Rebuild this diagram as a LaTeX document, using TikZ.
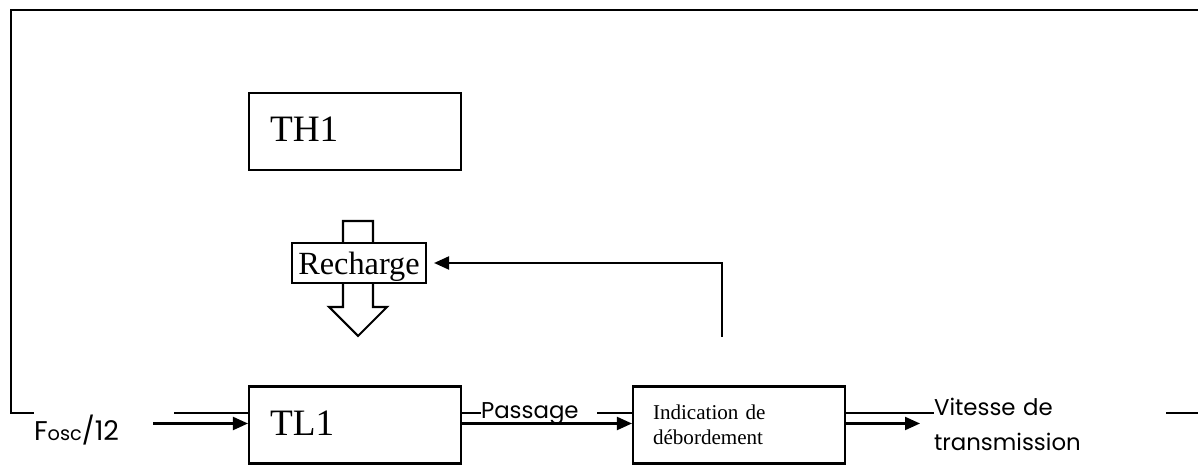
\documentclass[tikz,border=0pt]{standalone}
\usepackage{fontspec}
\setmainfont{Liberation Serif}
\setsansfont{Poppins}
\usepackage{tikz}
\usetikzlibrary{arrows.meta,calc}

\begin{document}
\begin{tikzpicture}[
   line width=0.6pt,
   arr/.style={-{Triangle[length=1.5mm,width=1.3mm]}},
   blk/.style={draw,fill=white,inner xsep=0.21cm,inner ysep=0pt,text width=1.70cm,align=left,minimum height=0.77cm},
   big/.style={font=\fontsize{10.6}{12}\selectfont,text depth=1.2pt},
   lbl/.style={fill=white,inner sep=0pt,anchor=base west,align=left,font=\sffamily\fontsize{6.5}{9.7}\selectfont}]
  \useasboundingbox (0,0) rectangle (11.98,4.68);
  % outer frame
  \draw (11.98,4.58) -| (0.11,0.55) -- (11.98,0.55);
  % timer registers
  \node[blk,big] (TH1) at (3.55,3.365) {TH1};
  \node[blk,big] (TL1) at (3.55,0.43) {TL1};
  % reload arrow
  \draw[fill=white] (3.43,2.47) -- (3.73,2.47) -- (3.73,1.61) -- (3.87,1.61) -- (3.58,1.32)
    -- (3.29,1.61) -- (3.43,1.61) -- cycle;
  \node[draw,fill=white,minimum width=1.34cm,minimum height=0.40cm,inner sep=0pt,
    font=\fontsize{9.2}{11}\selectfont,text depth=0pt] (rech) at (3.59,2.05) {Recharge};
  % overflow block
  \node[blk,inner xsep=0.20cm,text width=1.72cm,font=\fontsize{6}{7.1}\selectfont] (deb) at (7.39,0.43)
    {Indication de\\débordement};
  % labels
  \node[lbl,text width=1.40cm,inner ysep=3pt,font=\sffamily\fontsize{7.7}{9}\selectfont] (fosc) at (0.33,0.27)
    {F{\fontsize{5.5}{6}\selectfont osc}/12};
  \node[lbl,text width=1.16cm] (pass) at (4.80,0.49) {Passage};
  \node[lbl,text width=2.32cm] (vit) at (9.33,0.52) {Vitesse de\\transmission};
  % connectors
  \coordinate (fin) at (1.53,0.445);
  \coordinate (fout) at (9.20,0.445);
  \coordinate (fb) at (7.22,1.31);
  \draw[arr] (fin) -- (fin -| TL1.west);
  \draw[arr] (TL1.east |- fin) -- (fin -| deb.west);
  \draw[arr] (deb.east |- fin) -- (fout);
  \draw[arr,shorten >=0.07cm] (fb) |- (rech.east);
\end{tikzpicture}
\end{document}
